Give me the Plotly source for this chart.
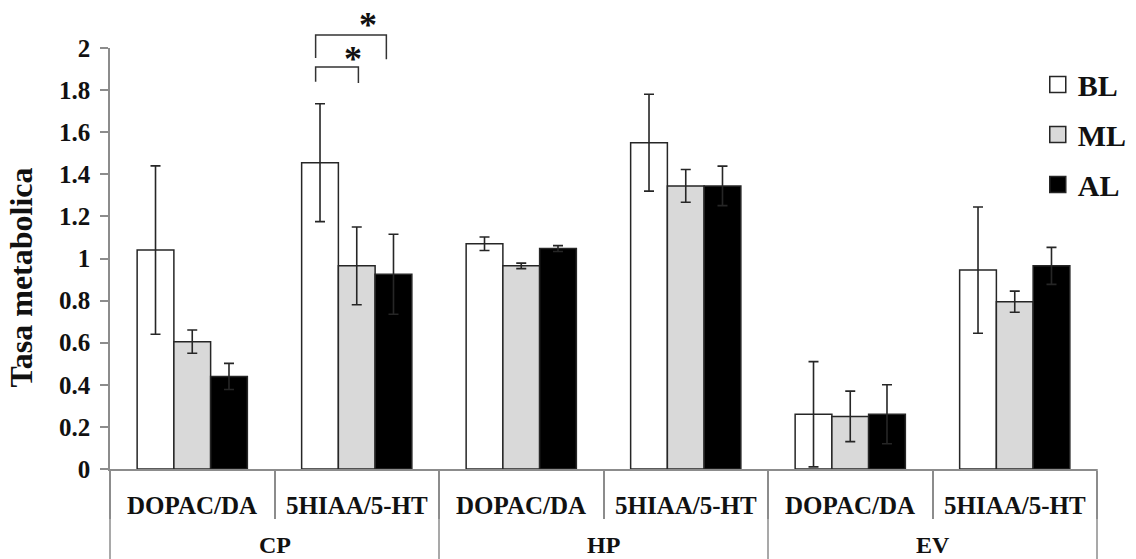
import plotly.graph_objects as go

# Brain regions and metabolic ratios
regions = ["CP", "CP", "HP", "HP", "EV", "EV"]
ratios = ["DOPAC/DA", "5HIAA/5-HT", "DOPAC/DA", "5HIAA/5-HT", "DOPAC/DA", "5HIAA/5-HT"]

groups = ["BL", "ML", "AL"]

bl_mean = [1.04, 1.455, 1.07, 1.55, 0.26, 0.945]
bl_err = [0.40, 0.28, 0.032, 0.23, 0.25, 0.30]

ml_mean = [0.605, 0.965, 0.965, 1.345, 0.25, 0.795]
ml_err = [0.055, 0.185, 0.013, 0.078, 0.12, 0.05]

al_mean = [0.44, 0.925, 1.047, 1.345, 0.26, 0.965]
al_err = [0.062, 0.19, 0.014, 0.094, 0.14, 0.088]

fills = ["#ffffff", "#d9d9d9", "#000000"]

y_ticks = [0, 0.2, 0.4, 0.6, 0.8, 1, 1.2, 1.4, 1.6, 1.8, 2]
y_tick_text = ["0", "0.2", "0.4", "0.6", "0.8", "1", "1.2", "1.4", "1.6", "1.8", "2"]

FONT = "Liberation Serif"
EDGE = "#262626"
AXIS = "#8c8c8c"
TEXT = "#111111"

fig = go.Figure()

series = [(bl_mean, bl_err), (ml_mean, ml_err), (al_mean, al_err)]
for name, (mean, err), color in zip(groups, series, fills):
    fig.add_trace(go.Bar(
        x=[regions, ratios],
        y=mean,
        name=name,
        marker=dict(color=color, line=dict(color=EDGE, width=1.5)),
        error_y=dict(type="data", array=err, visible=True,
                     color=EDGE, thickness=1.6, width=5),
        showlegend=False,
    ))

# Legend entries drawn as square markers on a hidden overlay axis
for name, color in zip(groups, fills):
    fig.add_trace(go.Scatter(
        x=[None], y=[None], xaxis="x2", yaxis="y2",
        mode="markers", name=name, legendgroup=name,
        marker=dict(symbol="square", size=18, color=color,
                    line=dict(color=EDGE, width=1.5)),
    ))

n_cat = len(ratios)
PLOT_H = 559 - 48 - 90


def px(pos):
    # category position -> paper x (range is [-0.5, n_cat - 0.5])
    return (pos + 0.5) / n_cat


def py(val):
    # data value -> paper y (range is [0, 2])
    return val / 2.0


def below(pixels):
    # distance below the x axis, in paper units
    return -pixels / PLOT_H


# Category labels: ratio row under each bar group, region row underneath
for i, label in enumerate(ratios):
    fig.add_annotation(x=px(i), y=below(36), xref="paper", yref="paper",
                       text=f"<b>{label}</b>", showarrow=False,
                       xanchor="center", yanchor="middle",
                       font=dict(family=FONT, size=25, color=TEXT))

region_names = list(dict.fromkeys(regions))
for name in region_names:
    idx = [i for i, r in enumerate(regions) if r == name]
    centre = (idx[0] + idx[-1]) / 2
    fig.add_annotation(x=px(centre), y=below(76), xref="paper", yref="paper",
                       text=f"<b>{name}</b>", showarrow=False,
                       xanchor="center", yanchor="middle",
                       font=dict(family=FONT, size=24, color=TEXT))

# Full-height dividers at the region boundaries and outer edges
bounds = [-0.5] + [i + 0.5 for i in range(n_cat - 1) if regions[i] != regions[i + 1]] + [n_cat - 0.5]
for b in bounds:
    fig.add_shape(type="line", xref="paper", yref="paper",
                  x0=px(b), x1=px(b), y0=0, y1=below(92),
                  line=dict(color=AXIS, width=1.5))

# Significance brackets over CP 5HIAA/5-HT (BL vs ML, BL vs AL)
brackets = [
    (1 - 0.25, 1 + 0.01, 1.91, 1.84, 1 - 0.09, 1.95),
    (1 - 0.25, 1 + 0.18, 2.062, 1.952, 1.0, 2.11),
]
for x0, x1, ytop, yleg, xstar, ystar in brackets:
    fig.add_shape(type="path",
                  path=f"M {px(x0)},{py(yleg)} L {px(x0)},{py(ytop)} "
                       f"L {px(x1)},{py(ytop)} L {px(x1)},{py(yleg) - 0.003}",
                  xref="paper", yref="paper",
                  line=dict(color="#333333", width=1.5))
    fig.add_annotation(x=px(xstar), y=py(ystar), xref="paper", yref="paper",
                       text="<b>*</b>", showarrow=False, yanchor="middle",
                       font=dict(family=FONT, size=36, color=TEXT))

fig.add_annotation(x=-0.09, y=0.455, xref="paper", yref="paper",
                   text="<b>Tasa metabolica</b>", textangle=-90, showarrow=False,
                   xanchor="center", yanchor="middle",
                   font=dict(family=FONT, size=32, color=TEXT))

fig.update_layout(
    width=1136, height=559,
    margin=dict(l=110, r=39, t=48, b=90, autoexpand=False),
    paper_bgcolor="white", plot_bgcolor="white",
    barmode="group", bargap=0.33, bargroupgap=0,
    font=dict(family=FONT, color=TEXT),
    xaxis=dict(
        type="multicategory",
        range=[-0.5, n_cat - 0.5],
        showline=True, linecolor=AXIS, linewidth=1.5,
        ticks="outside", tickson="boundaries", ticklen=48,
        tickcolor=AXIS, tickwidth=1.5,
        showticklabels=False, showdividers=False,
        showgrid=False, automargin=False,
    ),
    yaxis=dict(
        range=[0, 2],
        tickvals=y_ticks, ticktext=y_tick_text,
        showline=True, linecolor=AXIS, linewidth=1.5,
        ticks="outside", ticklen=8, tickcolor=AXIS, tickwidth=1.5,
        ticklabelstandoff=5,
        tickfont=dict(family=FONT, size=25, color=TEXT, weight="bold"),
        showgrid=False, zeroline=False, automargin=False,
    ),
    xaxis2=dict(visible=False, overlaying="x", range=[0, 1]),
    yaxis2=dict(visible=False, overlaying="y", range=[0, 1]),
    legend=dict(
        x=0.94, y=0.975, xanchor="left", yanchor="top",
        font=dict(family=FONT, size=30, color=TEXT, weight="bold"),
        bgcolor="rgba(0,0,0,0)", tracegroupgap=8,
        itemwidth=30,
    ),
)

fig.write_html("out.html")
